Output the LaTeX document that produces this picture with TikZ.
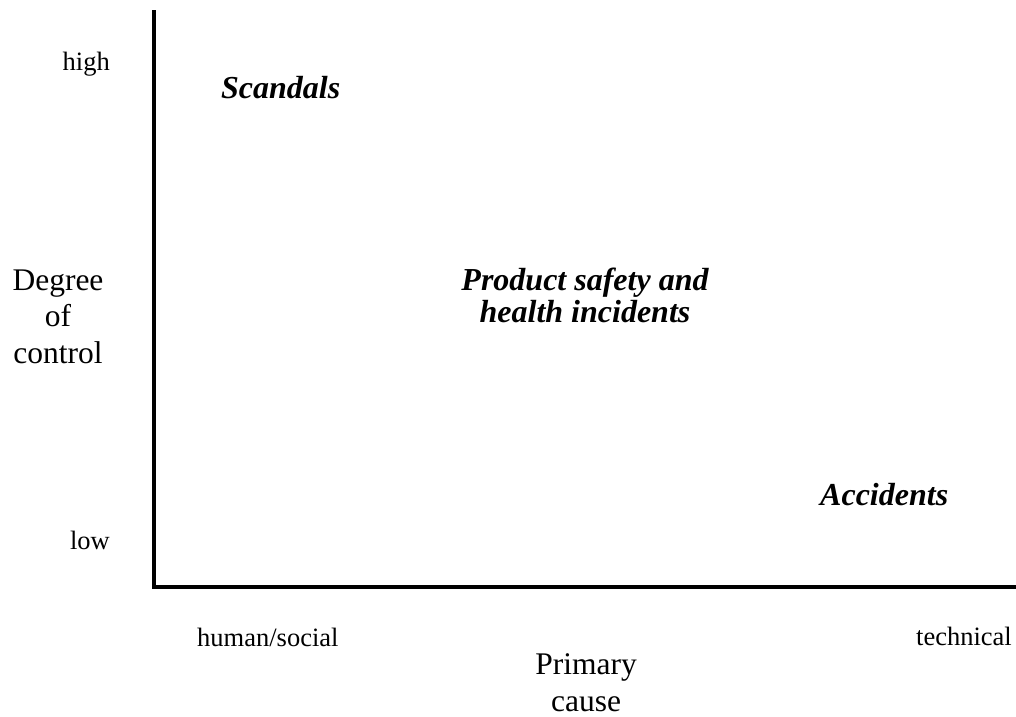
\documentclass[tikz,border=0pt]{standalone}
\usepackage{fontspec}
\setmainfont{Liberation Serif}
\tikzset{
  axis/.style={line width=4pt, line cap=rect},
  small/.style={font=\fontsize{26.5}{30}\selectfont, inner sep=0pt},
  big/.style={font=\fontsize{31.5}{36.5}\selectfont, inner sep=0pt, align=center},
  cat/.style={font=\fontsize{32}{32}\selectfont\bfseries\itshape, inner sep=0pt, align=center},
}
\begin{document}
\begin{tikzpicture}[x=1pt,y=-1pt]
\useasboundingbox (0,0) rectangle (1016,716);
\coordinate (top) at (154,12);
\coordinate (origin) at (154,587);
\coordinate (right) at (1016,587);
\draw[axis] (top) -- (origin) -- (right);
\node[small, anchor=base east] (high) at (110,70) {high};
\node[small, anchor=base east] (low) at (110,549) {low};
\node[small, anchor=base west] (hs) at (197,646) {human/social};
\node[small, anchor=base east] (tech) at (1012,645) {technical};
\node[big, anchor=base] (doc) at (58,363) {Degree\\of\\control};
\node[big, anchor=base] (pc) at (586,711) {Primary\\cause};
\node[cat, anchor=base west] (sc) at (221,98) {Scandals};
\node[cat, anchor=base west] (acc) at (820,505) {Accidents};
\node[cat, anchor=base] (ps) at (585,322) {Product safety and\\health incidents};
\end{tikzpicture}
\end{document}
